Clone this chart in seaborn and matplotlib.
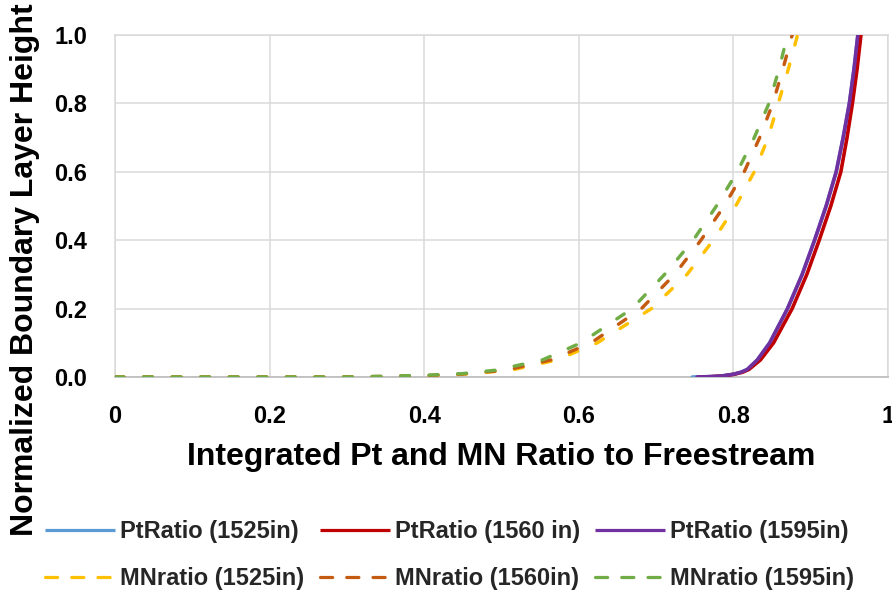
import numpy as np
import pandas as pd
import matplotlib
matplotlib.use("Agg")
import matplotlib.pyplot as plt
from matplotlib.lines import Line2D
import seaborn as sns

# ---------------- data ----------------
pt_1525_x = [0.747, 0.770, 0.785, 0.800, 0.810, 0.818, 0.831, 0.847, 0.870, 0.889, 0.905, 0.920, 0.933, 0.942, 0.950, 0.956, 0.961]
pt_1525_y = [0.000, 0.001, 0.003, 0.008, 0.014, 0.022, 0.050, 0.100, 0.200, 0.300, 0.400, 0.500, 0.600, 0.700, 0.800, 0.900, 1.000]

pt_1560_x = [0.755, 0.772, 0.787, 0.801, 0.812, 0.820, 0.835, 0.852, 0.876, 0.895, 0.911, 0.926, 0.939, 0.947, 0.954, 0.960, 0.965]
pt_1560_y = [0.000, 0.001, 0.003, 0.008, 0.014, 0.022, 0.050, 0.100, 0.200, 0.300, 0.400, 0.500, 0.600, 0.700, 0.800, 0.900, 1.000]

pt_1595_x = [0.753, 0.770, 0.785, 0.800, 0.810, 0.818, 0.831, 0.847, 0.870, 0.889, 0.905, 0.920, 0.933, 0.942, 0.950, 0.956, 0.961]
pt_1595_y = [0.000, 0.001, 0.003, 0.008, 0.014, 0.022, 0.050, 0.100, 0.200, 0.300, 0.400, 0.500, 0.600, 0.700, 0.800, 0.900, 1.000]

mn_1525_x = [0.0, 0.1, 0.2, 0.3, 0.35, 0.400, 0.450, 0.512, 0.572, 0.624, 0.694, 0.740, 0.774, 0.803, 0.827, 0.845, 0.858, 0.871, 0.883]
mn_1525_y = [0.0, 0.0, 0.0, 0.0, 0.001, 0.003, 0.008, 0.020, 0.050, 0.100, 0.200, 0.300, 0.400, 0.500, 0.600, 0.700, 0.800, 0.900, 1.000]

mn_1560_x = [0.0, 0.1, 0.2, 0.3, 0.35, 0.400, 0.450, 0.506, 0.564, 0.616, 0.681, 0.724, 0.758, 0.788, 0.814, 0.834, 0.851, 0.864, 0.876]
mn_1560_y = [0.0, 0.0, 0.0, 0.0, 0.002, 0.004, 0.009, 0.020, 0.050, 0.100, 0.200, 0.300, 0.400, 0.500, 0.600, 0.700, 0.800, 0.900, 1.000]

mn_1595_x = [0.0, 0.1, 0.2, 0.3, 0.35, 0.400, 0.450, 0.493, 0.553, 0.603, 0.669, 0.711, 0.748, 0.778, 0.805, 0.827, 0.846, 0.859, 0.870]
mn_1595_y = [0.0, 0.0, 0.0, 0.0, 0.002, 0.005, 0.010, 0.020, 0.050, 0.100, 0.200, 0.300, 0.400, 0.500, 0.600, 0.700, 0.800, 0.900, 1.000]

series_labels = ["PtRatio (1525in)", "PtRatio (1560 in)", "PtRatio (1595in)",
                 "MNratio (1525in)", "MNratio (1560in)", "MNratio (1595in)"]
series_colors = ["#5B9BD5", "#C00000", "#7030A0", "#FFC000", "#C55A11", "#70AD47"]

x_ticks = [0, 0.2, 0.4, 0.6, 0.8, 1.0]
x_tick_labels = ["0", "0.2", "0.4", "0.6", "0.8", "1"]
y_ticks = [0.0, 0.2, 0.4, 0.6, 0.8, 1.0]
y_tick_labels = ["0.0", "0.2", "0.4", "0.6", "0.8", "1.0"]

x_title = "Integrated Pt and MN Ratio to Freestream"
y_title = "Normalized Boundary Layer Height"

# ---------------- figure ----------------
sns.set_theme(style="white")
FAMILY = ["Liberation Sans", "DejaVu Sans"]
plt.rcParams["font.family"] = FAMILY

fig = plt.figure(figsize=(8.92, 5.91), dpi=100)
ax = fig.add_axes([115 / 892, 1 - 377 / 591, (888 - 115) / 892, (377 - 35) / 591])

xs = [pt_1525_x, pt_1560_x, pt_1595_x, mn_1525_x, mn_1560_x, mn_1595_x]
ys = [pt_1525_y, pt_1560_y, pt_1595_y, mn_1525_y, mn_1560_y, mn_1595_y]

PX = 72 / 100  # points per pixel
solid_lw = 3.6 * PX
dash_lw = 3.4 * PX

for i in [3, 4, 5]:
    df = pd.DataFrame({"x": xs[i], "y": ys[i]})
    sns.lineplot(data=df, x="x", y="y", ax=ax, color=series_colors[i], sort=False,
                 estimator=None, lw=dash_lw, linestyle=(0, (2.6, 5.8)),
                 dash_capstyle="round", legend=False, zorder=3)
for i in [0, 1, 2]:
    df = pd.DataFrame({"x": xs[i], "y": ys[i]})
    sns.lineplot(data=df, x="x", y="y", ax=ax, color=series_colors[i], sort=False,
                 estimator=None, lw=solid_lw, solid_capstyle="round",
                 solid_joinstyle="round", legend=False, zorder=4)

ax.set_xlim(0, 1)
ax.set_ylim(0, 1)
ax.set_xticks(x_ticks)
ax.set_xticklabels(x_tick_labels)
ax.set_yticks(y_ticks)
ax.set_yticklabels(y_tick_labels)
ax.grid(True, color="#D9D9D9", lw=1.5 * PX)
ax.set_axisbelow(True)
for s in ["left", "top", "right"]:
    ax.spines[s].set_color("#D9D9D9")
    ax.spines[s].set_linewidth(1.5 * PX)
ax.spines["bottom"].set_color("#BFBFBF")
ax.spines["bottom"].set_linewidth(1.8 * PX)

ax.tick_params(axis="both", length=0, pad=20, labelsize=17, colors="black")
for lab in ax.get_xticklabels() + ax.get_yticklabels():
    lab.set_fontweight("bold")
    lab.set_family(FAMILY)

title_font = dict(family=FAMILY, fontweight="bold", fontsize=23, color="black")
ax.set_xlabel(x_title, **title_font, va="top")
ax.xaxis.set_label_coords(0.5, -0.19)
ax.set_ylabel(y_title, **title_font, va="center")
ax.yaxis.set_label_coords(-0.116, 0.313)

# legend (two rows, three columns, filled row by row)
handles = []
for i in range(6):
    if i < 3:
        h = Line2D([], [], color=series_colors[i], lw=3.2 * PX, solid_capstyle="butt")
    else:
        h = Line2D([], [], color=series_colors[i], lw=3.2 * PX,
                   linestyle=(0, (3.8, 4.4)), dash_capstyle="round")
    handles.append(h)
order = [0, 3, 1, 4, 2, 5]

leg = fig.legend([handles[k] for k in order], [series_labels[k] for k in order],
                 ncol=3, loc="center left",
                 bbox_to_anchor=(45 / 892, 1 - 555 / 591), frameon=False,
                 prop=dict(family=FAMILY, weight="bold", size=17),
                 handlelength=2.97, handletextpad=0.21, columnspacing=0.65,
                 labelspacing=1.0, borderpad=0, borderaxespad=0)

fig.savefig("out.png", dpi=100)
